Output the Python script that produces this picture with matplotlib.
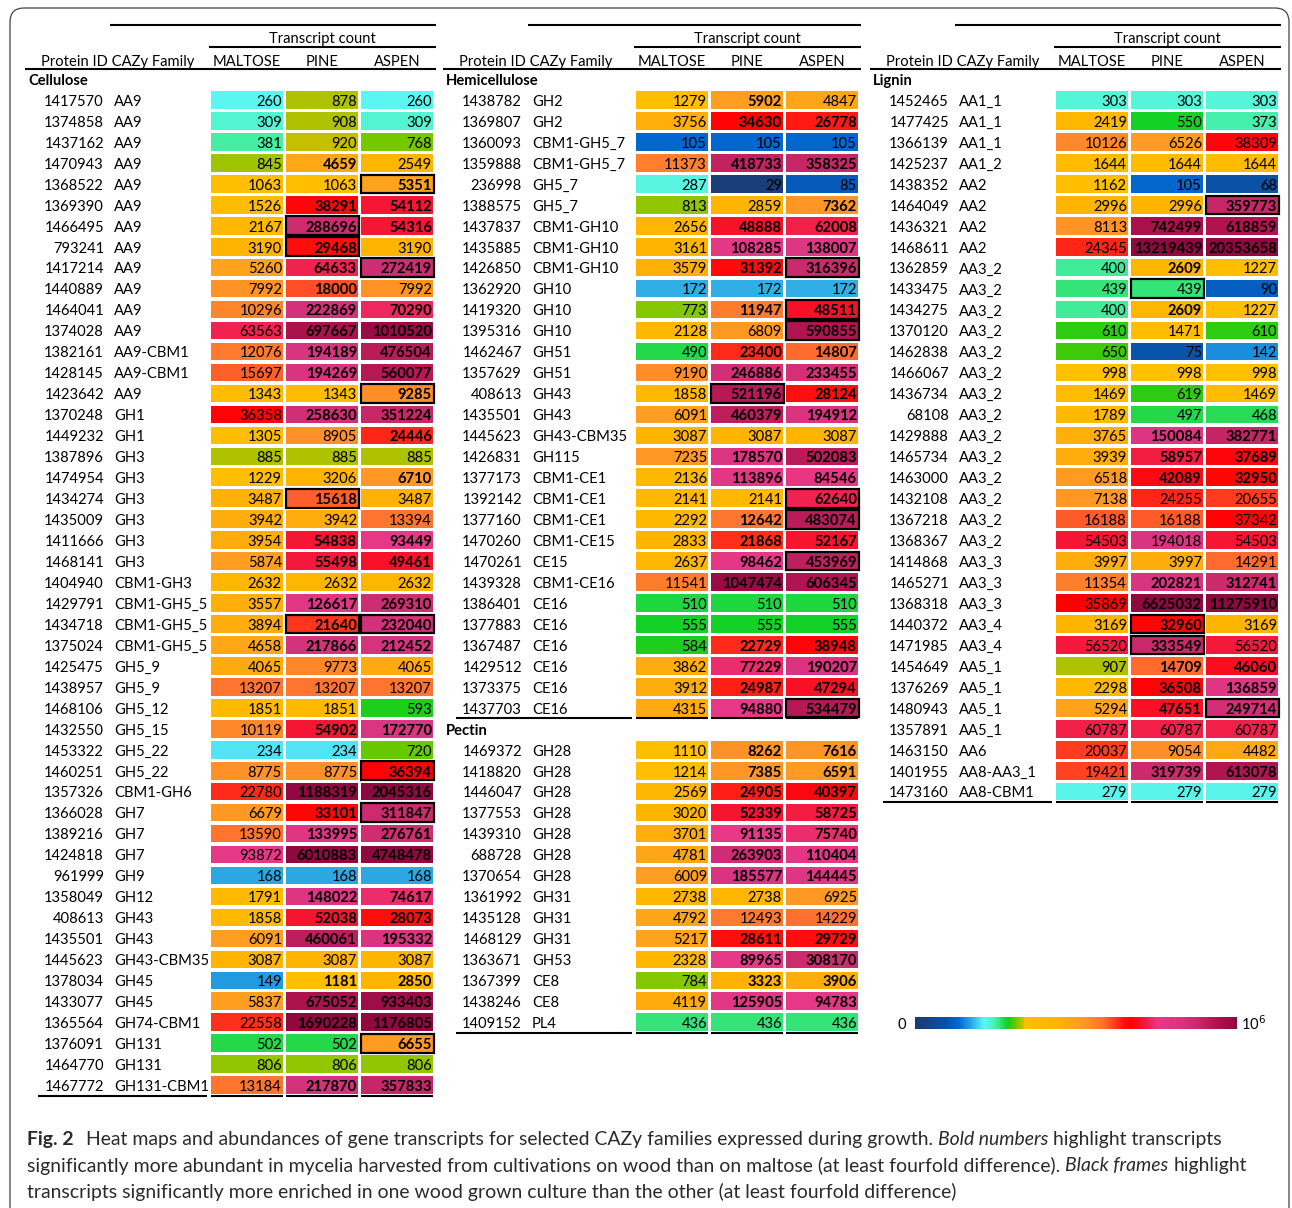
import numpy as np
import matplotlib
matplotlib.use("Agg")
import matplotlib.pyplot as plt
from matplotlib.colors import LinearSegmentedColormap, LogNorm
from matplotlib.patches import Rectangle, FancyBboxPatch

# ---------------- data ----------------
conditions = ["MALTOSE", "PINE", "ASPEN"]

cellulose_ids = [1417570, 1374858, 1437162, 1470943, 1368522, 1369390, 1466495, 793241,
                 1417214, 1440889, 1464041, 1374028, 1382161, 1428145, 1423642, 1370248,
                 1449232, 1387896, 1474954, 1434274, 1435009, 1411666, 1468141, 1404940,
                 1429791, 1434718, 1375024, 1425475, 1438957, 1468106, 1432550, 1453322,
                 1460251, 1357326, 1366028, 1389216, 1424818, 961999, 1358049, 408613,
                 1435501, 1445623, 1378034, 1433077, 1365564, 1376091, 1464770, 1467772]
cellulose_families = ["AA9", "AA9", "AA9", "AA9", "AA9", "AA9", "AA9", "AA9", "AA9", "AA9",
                      "AA9", "AA9", "AA9-CBM1", "AA9-CBM1", "AA9", "GH1", "GH1", "GH3", "GH3",
                      "GH3", "GH3", "GH3", "GH3", "CBM1-GH3", "CBM1-GH5_5", "CBM1-GH5_5",
                      "CBM1-GH5_5", "GH5_9", "GH5_9", "GH5_12", "GH5_15", "GH5_22", "GH5_22",
                      "CBM1-GH6", "GH7", "GH7", "GH7", "GH9", "GH12", "GH43", "GH43",
                      "GH43-CBM35", "GH45", "GH45", "GH74-CBM1", "GH131", "GH131", "GH131-CBM1"]
cellulose_maltose = [260, 309, 381, 845, 1063, 1526, 2167, 3190, 5260, 7992, 10296, 63563,
                     12076, 15697, 1343, 36358, 1305, 885, 1229, 3487, 3942, 3954, 5874, 2632,
                     3557, 3894, 4658, 4065, 13207, 1851, 10119, 234, 8775, 22780, 6679, 13590,
                     93872, 168, 1791, 1858, 6091, 3087, 149, 5837, 22558, 502, 806, 13184]
cellulose_pine = [878, 908, 920, 4659, 1063, 38291, 288696, 29468, 64633, 18000, 222869, 697667,
                  194189, 194269, 1343, 258630, 8905, 885, 3206, 15618, 3942, 54838, 55498, 2632,
                  126617, 21640, 217866, 9773, 13207, 1851, 54902, 234, 8775, 1188319, 33101,
                  133995, 6010883, 168, 148022, 52038, 460061, 3087, 1181, 675052, 1690228, 502,
                  806, 217870]
cellulose_aspen = [260, 309, 768, 2549, 5351, 54112, 54316, 3190, 272419, 7992, 70290, 1010520,
                   476504, 560077, 9285, 351224, 24446, 885, 6710, 3487, 13394, 93449, 49461, 2632,
                   269310, 232040, 212452, 4065, 13207, 593, 172770, 720, 36394, 2045316, 311847,
                   276761, 4748478, 168, 74617, 28073, 195332, 3087, 2850, 933403, 1176805, 6655,
                   806, 357833]
# columns (M/P/A) printed in bold, and columns with a black frame
cellulose_bold = ["", "", "", "P", "A", "PA", "PA", "P", "PA", "P", "PA", "PA", "PA", "PA", "A",
                  "PA", "A", "", "A", "P", "", "PA", "PA", "", "PA", "PA", "PA", "", "", "", "PA",
                  "", "A", "PA", "PA", "PA", "PA", "", "PA", "PA", "PA", "", "PA", "PA", "PA", "A",
                  "", "PA"]
cellulose_framed = ["", "", "", "", "A", "", "P", "P", "A", "", "", "", "", "", "A", "", "", "",
                    "", "P", "", "", "", "", "", "PA", "", "", "", "", "", "", "A", "", "A", "",
                    "", "", "", "", "", "", "", "", "", "A", "", ""]

hemi_ids = [1438782, 1369807, 1360093, 1359888, 236998, 1388575, 1437837, 1435885, 1426850,
            1362920, 1419320, 1395316, 1462467, 1357629, 408613, 1435501, 1445623, 1426831,
            1377173, 1392142, 1377160, 1470260, 1470261, 1439328, 1386401, 1377883, 1367487,
            1429512, 1373375, 1437703]
hemi_families = ["GH2", "GH2", "CBM1-GH5_7", "CBM1-GH5_7", "GH5_7", "GH5_7", "CBM1-GH10",
                 "CBM1-GH10", "CBM1-GH10", "GH10", "GH10", "GH10", "GH51", "GH51", "GH43", "GH43",
                 "GH43-CBM35", "GH115", "CBM1-CE1", "CBM1-CE1", "CBM1-CE1", "CBM1-CE15", "CE15",
                 "CBM1-CE16", "CE16", "CE16", "CE16", "CE16", "CE16", "CE16"]
hemi_maltose = [1279, 3756, 105, 11373, 287, 813, 2656, 3161, 3579, 172, 773, 2128, 490, 9190,
                1858, 6091, 3087, 7235, 2136, 2141, 2292, 2833, 2637, 11541, 510, 555, 584, 3862,
                3912, 4315]
hemi_pine = [5902, 34630, 105, 418733, 29, 2859, 48888, 108285, 31392, 172, 11947, 6809, 23400,
             246886, 521196, 460379, 3087, 178570, 113896, 2141, 12642, 21868, 98462, 1047474,
             510, 555, 22729, 77229, 24987, 94880]
hemi_aspen = [4847, 26778, 105, 358325, 85, 7362, 62008, 138007, 316396, 172, 48511, 590855,
              14807, 233455, 28124, 194912, 3087, 502083, 84546, 62640, 483074, 52167, 453969,
              606345, 510, 555, 38948, 190207, 47294, 534479]
hemi_bold = ["P", "PA", "", "PA", "", "A", "PA", "PA", "PA", "", "PA", "A", "PA", "PA", "PA",
             "PA", "", "PA", "PA", "A", "PA", "PA", "PA", "PA", "", "", "PA", "PA", "PA", "PA"]
hemi_framed = ["", "", "", "", "", "", "", "", "A", "", "A", "A", "", "", "P", "", "", "", "",
               "A", "A", "", "A", "", "", "", "", "", "", "A"]

pectin_ids = [1469372, 1418820, 1446047, 1377553, 1439310, 688728, 1370654, 1361992, 1435128,
              1468129, 1363671, 1367399, 1438246, 1409152]
pectin_families = ["GH28", "GH28", "GH28", "GH28", "GH28", "GH28", "GH28", "GH31", "GH31",
                   "GH31", "GH53", "CE8", "CE8", "PL4"]
pectin_maltose = [1110, 1214, 2569, 3020, 3701, 4781, 6009, 2738, 4792, 5217, 2328, 784, 4119, 436]
pectin_pine = [8262, 7385, 24905, 52339, 91135, 263903, 185577, 2738, 12493, 28611, 89965, 3323,
               125905, 436]
pectin_aspen = [7616, 6591, 40397, 58725, 75740, 110404, 144445, 6925, 14229, 29729, 308170,
                3906, 94783, 436]
pectin_bold = ["PA", "PA", "PA", "PA", "PA", "PA", "PA", "", "", "PA", "PA", "PA", "PA", ""]
pectin_framed = [""] * 14

lignin_ids = [1452465, 1477425, 1366139, 1425237, 1438352, 1464049, 1436321, 1468611, 1362859,
              1433475, 1434275, 1370120, 1462838, 1466067, 1436734, 68108, 1429888, 1465734,
              1463000, 1432108, 1367218, 1368367, 1414868, 1465271, 1368318, 1440372, 1471985,
              1454649, 1376269, 1480943, 1357891, 1463150, 1401955, 1473160]
lignin_families = ["AA1_1", "AA1_1", "AA1_1", "AA1_2", "AA2", "AA2", "AA2", "AA2", "AA3_2",
                   "AA3_2", "AA3_2", "AA3_2", "AA3_2", "AA3_2", "AA3_2", "AA3_2", "AA3_2", "AA3_2",
                   "AA3_2", "AA3_2", "AA3_2", "AA3_2", "AA3_3", "AA3_3", "AA3_3", "AA3_4", "AA3_4",
                   "AA5_1", "AA5_1", "AA5_1", "AA5_1", "AA6", "AA8-AA3_1", "AA8-CBM1"]
lignin_maltose = [303, 2419, 10126, 1644, 1162, 2996, 8113, 24345, 400, 439, 400, 610, 650, 998,
                  1469, 1789, 3765, 3939, 6518, 7138, 16188, 54503, 3997, 11354, 35869, 3169,
                  56520, 907, 2298, 5294, 60787, 20037, 19421, 279]
lignin_pine = [303, 550, 6526, 1644, 105, 2996, 742499, 13219439, 2609, 439, 2609, 1471, 75, 998,
               619, 497, 150084, 58957, 42089, 24255, 16188, 194018, 3997, 202821, 6625032, 32960,
               333549, 14709, 36508, 47651, 60787, 9054, 319739, 279]
lignin_aspen = [303, 373, 38309, 1644, 68, 359773, 618859, 20353658, 1227, 90, 1227, 610, 142,
                998, 1469, 468, 382771, 37689, 32950, 20655, 37342, 54503, 14291, 312741,
                11275910, 3169, 56520, 46060, 136859, 249714, 60787, 4482, 613078, 279]
lignin_bold = ["", "", "", "", "", "A", "PA", "PA", "P", "", "P", "", "", "", "", "", "PA", "PA",
               "PA", "", "", "", "", "PA", "PA", "P", "P", "PA", "PA", "PA", "", "", "PA", ""]
lignin_framed = ["", "", "", "", "", "A", "", "", "", "P", "", "", "", "", "", "", "", "", "",
                 "", "", "", "", "", "", "P", "P", "", "", "A", "", "", "", ""]

# ---------------- colour scale (log counts) ----------------
LOG_LO, LOG_HI = 1.4, 6.1
anchors = [(1.4, "#1b3a70"), (1.85, "#0a52a8"), (2.02, "#0068d0"), (2.2, "#28a2e2"),
           (2.4, "#5cf6f8"), (2.5, "#52f4cc"), (2.6, "#40ec98"), (2.68, "#26da50"),
           (2.75, "#12d024"), (2.82, "#4cc800"), (2.9, "#88c800"), (2.96, "#b8c000"),
           (3.0, "#ffc000"), (3.5, "#ffb400"), (3.75, "#ffa020"), (3.95, "#ff9028"),
           (4.15, "#ff7030"), (4.3, "#ff4020"), (4.45, "#ff1010"), (4.55, "#ff0000"),
           (4.75, "#f41838"), (4.95, "#e83888"), (5.3, "#d83480"), (5.55, "#c82868"),
           (5.8, "#b01450"), (6.1, "#900840")]
cmap = LinearSegmentedColormap.from_list(
    "cazy", [((l - LOG_LO) / (LOG_HI - LOG_LO), c) for l, c in anchors])
norm = LogNorm(vmin=10 ** LOG_LO, vmax=10 ** LOG_HI, clip=True)

# ---------------- figure ----------------
W, H = 1292, 1208
fig = plt.figure(figsize=(W / 100, H / 100), dpi=100)
ax = fig.add_axes([0, 0, 1, 1])
ax.set_xlim(0, W)
ax.set_ylim(H, 0)
ax.axis("off")

FONT = "Lato"
FS = 10.6
TY = 1.8  # text sits a little low in the cells compared with matplotlib's "center"
ROW0, PITCH = 100, 20.96
CELL_X, CELL_W, CELL_STEP, CELL_H = 211, 72, 75, 17.6
COLS = "MPA"
LW = 1.5


def row_y(i):
    return ROW0 + i * PITCH


def hline(x0, x1, y):
    ax.plot([x0, x1], [y, y], color="black", lw=LW, solid_capstyle="butt")


def label(x, y, s, ha="left", **kw):
    ax.text(x, y + TY, s, ha=ha, va="center", family=FONT, fontsize=FS, **kw)


def draw_header(dx_t, dx_c):
    right = CELL_X + 2 * CELL_STEP + CELL_W + 3 + dx_c
    hline(110 + dx_t, right, 25)
    hline(CELL_X - 2 + dx_c, right, 47)
    hline(25 + dx_t, right, 69)
    label(CELL_X + CELL_STEP + CELL_W / 2 + dx_c, 37, "Transcript count", ha="center")
    label(41 + dx_t, 60, "Protein ID CAZy Family")
    for j, name in enumerate(conditions):
        label(CELL_X + j * CELL_STEP + CELL_W / 2 + dx_c, 60, name, ha="center")


def draw_section(dx_t, dx_c, start, title, ids, fams, cols, bold, framed):
    label(28 + dx_t, row_y(start - 1), title, fontweight="bold")
    for i in range(len(ids)):
        y = row_y(start + i)
        label(104 + dx_t, y, str(ids[i]), ha="right")
        label(114 + dx_t, y, fams[i])
        for j, vals in enumerate(cols):
            x0 = CELL_X + j * CELL_STEP + dx_c
            v = vals[i]
            ax.add_patch(Rectangle((x0, y - CELL_H / 2), CELL_W, CELL_H,
                                   facecolor=cmap(norm(v)), edgecolor="none"))
            label(x0 + CELL_W - 1, y, str(v), ha="right",
                  fontweight="bold" if COLS[j] in bold[i] else "normal")
            if COLS[j] in framed[i]:
                ax.add_patch(Rectangle((x0 - 0.5, y - CELL_H / 2 - 0.5), CELL_W + 1, CELL_H + 1,
                                       fill=False, edgecolor="black", lw=1.6, zorder=5))
    yb = row_y(start + len(ids) - 1) + 10.5
    hline(38 + dx_t, CELL_X - 4 + dx_c, yb)
    for j in range(3):
        x0 = CELL_X + j * CELL_STEP + dx_c
        hline(x0, x0 + CELL_W, yb)


panels = [
    (0, 0, [(0, "Cellulose", cellulose_ids, cellulose_families,
             [cellulose_maltose, cellulose_pine, cellulose_aspen], cellulose_bold, cellulose_framed)]),
    (418, 425, [(0, "Hemicellulose", hemi_ids, hemi_families,
                 [hemi_maltose, hemi_pine, hemi_aspen], hemi_bold, hemi_framed),
                (31, "Pectin", pectin_ids, pectin_families,
                 [pectin_maltose, pectin_pine, pectin_aspen], pectin_bold, pectin_framed)]),
    (845, 845, [(0, "Lignin", lignin_ids, lignin_families,
                 [lignin_maltose, lignin_pine, lignin_aspen], lignin_bold, lignin_framed)]),
]
for dx_t, dx_c, sections in panels:
    draw_header(dx_t, dx_c)
    for sec in sections:
        draw_section(dx_t, dx_c, *sec)

# colour bar
ax.imshow(np.linspace(0, 1, 256)[None, :], cmap=cmap, extent=[915, 1237, 1029, 1017],
          aspect="auto", interpolation="bilinear")
label(902, 1023, "0", ha="center")
label(1241, 1022, r"10$^{6}$")

# frame around the figure
ax.add_patch(FancyBboxPatch((10, 8), 1279, 1300, boxstyle="round,pad=0,rounding_size=14",
                            fill=False, edgecolor="#444444", lw=0.9))

ax.set_xlim(0, W)
ax.set_ylim(H, 0)

# ---------------- caption ----------------
CAP_FONT = "Lato"
CAP_COLOR = "#2a2a2a"
renderer = fig.canvas.get_renderer()


def text_width(s, size, **kw):
    t = ax.text(0, 0, s, fontsize=size, family=CAP_FONT, **kw)
    w = t.get_window_extent(renderer).width
    t.remove()
    return w


line2 = ("significantly more abundant in mycelia harvested from cultivations on wood than on "
         "maltose (at least fourfold difference). Black frames highlight")
cap_fs = 13 * 1221 / text_width(line2, 13)
space = text_width("a a", cap_fs) - text_width("aa", cap_fs)


def write_line(x, y, pieces):
    for s, style, weight in pieces:
        if s == " ":
            x += space
            continue
        if s == "  ":
            x += 12
            continue
        t = ax.text(x, y + TY, s, fontsize=cap_fs, family=CAP_FONT, fontstyle=style,
                    fontweight=weight, color=CAP_COLOR, ha="left", va="center")
        x += t.get_window_extent(renderer).width


write_line(27, 1138, [("Fig. 2", "normal", "bold"), ("  ", None, None),
                      ("Heat maps and abundances of gene transcripts for selected CAZy families "
                       "expressed during growth.", "normal", "normal"), (" ", None, None),
                      ("Bold numbers", "italic", "normal"), (" ", None, None),
                      ("highlight transcripts", "normal", "normal")])
write_line(27, 1164, [("significantly more abundant in mycelia harvested from cultivations on wood "
                       "than on maltose (at least fourfold difference).", "normal", "normal"),
                      (" ", None, None), ("Black frames", "italic", "normal"), (" ", None, None),
                      ("highlight", "normal", "normal")])
write_line(27, 1190, [("transcripts significantly more enriched in one wood grown culture than the "
                       "other (at least fourfold difference)", "normal", "normal")])

fig.savefig("out.png", dpi=100)
